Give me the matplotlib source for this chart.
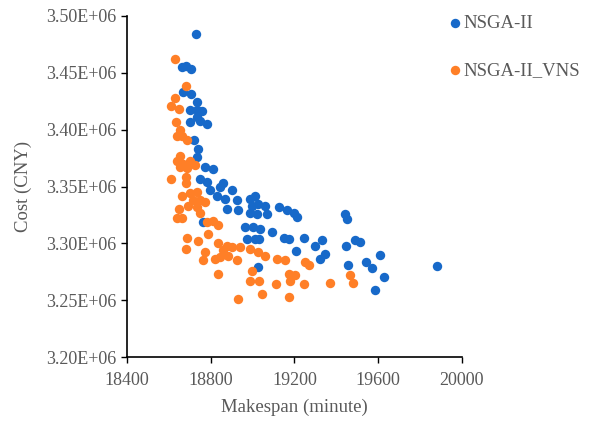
import matplotlib
matplotlib.use("Agg")
import matplotlib.pyplot as plt

plt.rcParams['font.family'] = ['Liberation Serif', 'DejaVu Serif']

# NSGA-II results (makespan in minutes, cost in CNY)
nsga_x = [18729, 18662, 18682, 18705, 18669, 18705, 18733,
          18701, 18733, 18757, 18701, 18749, 18781, 18733,
          18721, 18741, 18733, 18773, 18813, 18749, 18781,
          18797, 18845, 18829, 18869, 18901, 18877, 18925, 18933, 18860,
          19012, 18997, 19028, 19060, 19021, 19068, 19125, 19164, 19196, 19212,
          18989, 18989, 19443, 19451, 18765,
          18965, 19004, 19036, 19092, 18973, 19012, 19033, 19148, 19172,
          19247, 19300, 19332, 19209, 19348, 19320,
          19448, 19491, 19515, 19611, 19454, 19544, 19572, 19626, 19587, 19879,
          19028]
nsga_y = [3.484e6, 3.455e6, 3.456e6, 3.453e6, 3.433e6, 3.431e6, 3.424e6,
          3.417e6, 3.417e6, 3.416e6, 3.407e6, 3.408e6, 3.405e6, 3.411e6,
          3.391e6, 3.383e6, 3.376e6, 3.367e6, 3.365e6, 3.357e6, 3.354e6,
          3.347e6, 3.350e6, 3.342e6, 3.339e6, 3.347e6, 3.330e6, 3.338e6, 3.329e6, 3.353e6,
          3.342e6, 3.333e6, 3.335e6, 3.333e6, 3.326e6, 3.326e6, 3.332e6, 3.329e6, 3.327e6, 3.323e6,
          3.339e6, 3.327e6, 3.326e6, 3.321e6, 3.319e6,
          3.314e6, 3.314e6, 3.313e6, 3.310e6, 3.304e6, 3.304e6, 3.304e6, 3.305e6, 3.304e6,
          3.305e6, 3.298e6, 3.303e6, 3.293e6, 3.291e6, 3.286e6,
          3.298e6, 3.303e6, 3.301e6, 3.290e6, 3.281e6, 3.284e6, 3.278e6, 3.270e6, 3.259e6, 3.280e6,
          3.279e6]

# NSGA-II_VNS results
vns_x = [18630, 18681, 18631, 18609, 18650, 18634,
         18653, 18640, 18661, 18685,
         18653, 18638, 18669, 18701, 18725, 18653, 18685,
         18609, 18682, 18682,
         18662, 18701, 18733, 18717, 18749, 18773, 18693, 18733, 18749,
         18650, 18638, 18662, 18781, 18813, 18837, 18789, 18689, 18741, 18682,
         18837, 18877, 18861, 18901, 18941, 18989, 18885, 18845, 18925, 18821,
         18773, 18765, 19028, 19060, 18997, 18989, 19033, 18837, 19045, 18933,
         19116, 19156, 19113, 19172, 19180, 19204, 19172,
         19252, 19272, 19247, 19368, 19467, 19480]
vns_y = [3.462e6, 3.438e6, 3.428e6, 3.421e6, 3.418e6, 3.407e6,
         3.400e6, 3.394e6, 3.394e6, 3.391e6,
         3.377e6, 3.372e6, 3.370e6, 3.372e6, 3.369e6, 3.367e6, 3.366e6,
         3.357e6, 3.358e6, 3.353e6,
         3.342e6, 3.344e6, 3.345e6, 3.338e6, 3.338e6, 3.336e6, 3.333e6, 3.332e6, 3.327e6,
         3.330e6, 3.322e6, 3.322e6, 3.319e6, 3.320e6, 3.316e6, 3.308e6, 3.305e6, 3.302e6, 3.295e6,
         3.300e6, 3.298e6, 3.294e6, 3.297e6, 3.297e6, 3.295e6, 3.289e6, 3.288e6, 3.285e6, 3.286e6,
         3.292e6, 3.285e6, 3.292e6, 3.289e6, 3.276e6, 3.267e6, 3.267e6, 3.273e6, 3.255e6, 3.251e6,
         3.286e6, 3.285e6, 3.264e6, 3.273e6, 3.267e6, 3.272e6, 3.253e6,
         3.284e6, 3.281e6, 3.264e6, 3.265e6, 3.272e6, 3.265e6]

x_ticks = [18400, 18800, 19200, 19600, 20000]
y_ticks = [3.20e6, 3.25e6, 3.30e6, 3.35e6, 3.40e6, 3.45e6, 3.50e6]

grey = '#595959'
fig = plt.figure(figsize=(5.9, 4.21), dpi=100)
ax = fig.add_axes([0.215, 0.152, 0.568, 0.810])

ax.scatter(nsga_x, nsga_y, s=46, color='#1769C9', label='NSGA-II', linewidths=0, zorder=3)
ax.scatter(vns_x, vns_y, s=46, color='#FF7F27', label='NSGA-II_VNS', linewidths=0, zorder=3)

ax.set_xlim(18400, 20000)
ax.set_ylim(3.20e6, 3.50e6)
ax.set_xticks(x_ticks)
ax.set_yticks(y_ticks)
ax.set_yticklabels(['%.2fE+06' % (v / 1e6) for v in y_ticks])
ax.tick_params(labelsize=13, labelcolor=grey, direction='out', length=4, width=1)
ax.tick_params(axis='x', pad=6.5)

for s in ['top', 'right']:
    ax.spines[s].set_visible(False)
for s in ['left', 'bottom']:
    ax.spines[s].set_linewidth(1.2)

ax.set_xlabel('Makespan (minute)', fontsize=13.5, color=grey, labelpad=7)
ax.set_ylabel('Cost (CNY)', fontsize=13.5, color=grey, labelpad=10)

fig.legend(loc='upper left', bbox_to_anchor=(0.762, 0.965), frameon=False,
           fontsize=13.5, markerscale=1.0, handlelength=0.6, handletextpad=0.15,
           borderpad=0, borderaxespad=0, labelspacing=1.6, labelcolor=grey)

fig.savefig('out.png', dpi=100)
